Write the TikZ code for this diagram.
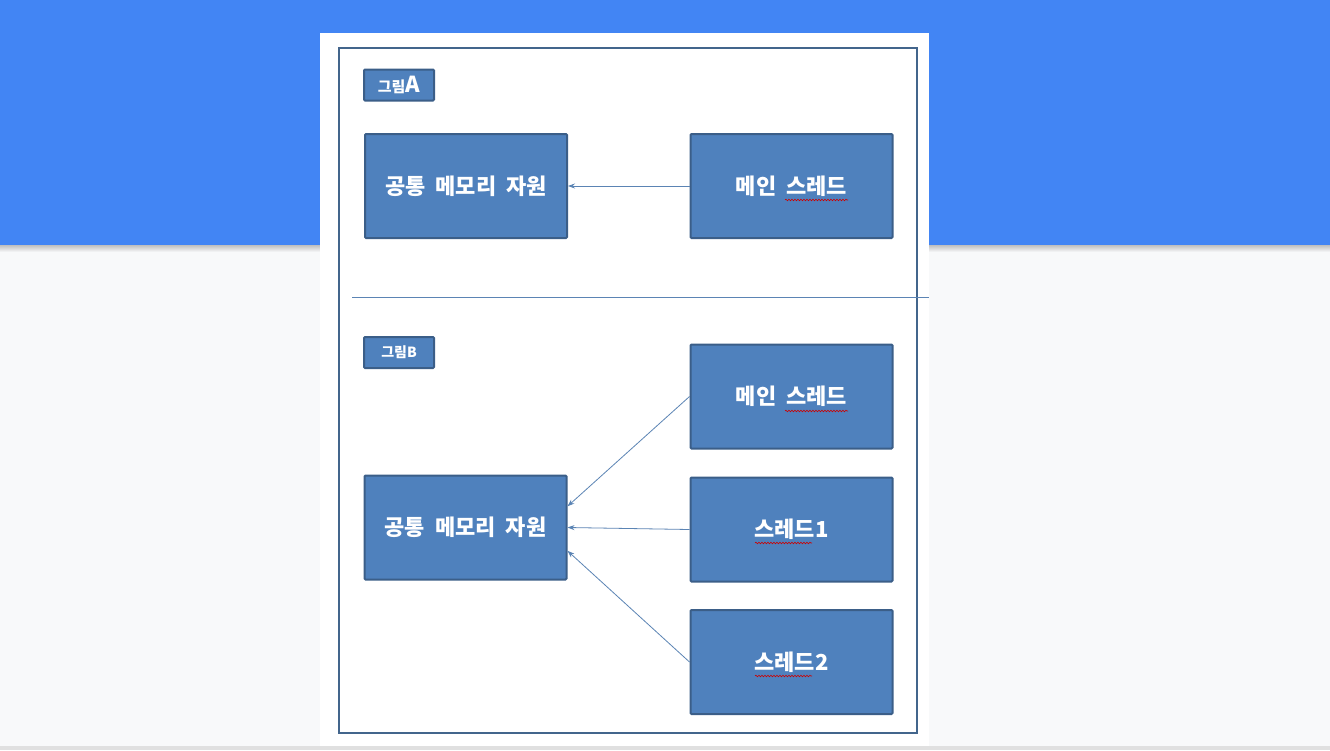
\documentclass[tikz,border=0pt]{standalone}
\usepackage{fontspec}
\newfontfamily\kr{Noto Sans CJK KR}
\newcommand\boxfont{\kr\bfseries\fontsize{22}{25}\selectfont\spaceskip=10pt\relax}
\usetikzlibrary{arrows.meta,calc,decorations.pathmorphing}
\definecolor{gblue}{HTML}{4285F4}
\definecolor{bggray}{HTML}{F8F9FA}
\definecolor{boxfill}{HTML}{4F81BD}
\definecolor{boxline}{HTML}{3B5E88}
\definecolor{framec}{HTML}{43658C}
\definecolor{linec}{HTML}{5B84B4}
\tikzset{
  box/.style={draw=boxline, line width=2pt, fill=boxfill, text=white, rounded corners=1pt,
    inner sep=0pt, minimum width=202pt, minimum height=104pt, font=\boxfont},
  tag/.style={draw=boxline, line width=2pt, fill=boxfill, text=white, rounded corners=1pt,
    inner sep=0pt, minimum width=70pt, minimum height=31pt},
  conn/.style={draw=linec, line width=0.8pt, -{Stealth[length=7pt,width=5pt]}},
  squig/.style={draw=red!80!black, line width=0.6pt, decorate,
    decoration={snake, amplitude=0.8pt, segment length=3pt}}
}
\begin{document}
\begin{tikzpicture}[x=1pt,y=-1pt]
\useasboundingbox (0,0) rectangle (1330,750);
\fill[bggray] (0,0) rectangle (1330,750);
\shade[top color=black!25, bottom color=bggray] (0,245) rectangle (1330,252);
\fill[gblue] (0,0) rectangle (1330,245);
\fill[black!12] (0,746) rectangle (1330,750);
\fill[white] (320,33) rectangle (929,746);
\draw[framec, line width=2.5pt] (339,48) rectangle (917,733);
\draw[linec, line width=0.8pt] (352,297) -- (929,297);

% Figure A
\node[tag] (tagA) at (399,85) {\kr\bfseries\fontsize{15}{17}\selectfont 그림\fontsize{22}{24}\selectfont A};
\node[box] (cA) at (466,186) {공통 메모리 자원};
\node[box] (mA) at (791.5,186) {메인 스레드};
\draw[conn] (mA.west) -- (cA.east);
\draw[squig] (785,200) -- (848,200);

% Figure B
\node[tag] (tagB) at (399,352.5) {\kr\bfseries\fontsize{14}{16}\selectfont 그림B};
\node[box] (cB) at (465.5,527.5) {공통 메모리 자원};
\node[box] (mB) at (791.5,396.5) {메인 스레드};
\node[box] (s1) at (791.5,529.5) {스레드1};
\node[box] (s2) at (791.5,662) {스레드2};
\draw[conn] (mB.west) -- ($(cB.north east)!0.3!(cB.south east)$);
\draw[conn] (s1.west) -- (cB.east);
\draw[conn] (s2.west) -- ($(cB.north east)!0.72!(cB.south east)$);
\draw[squig] (785,411) -- (848,411);
\draw[squig] (755,543) -- (812,543);
\draw[squig] (755,676) -- (812,676);
\end{tikzpicture}
\end{document}
